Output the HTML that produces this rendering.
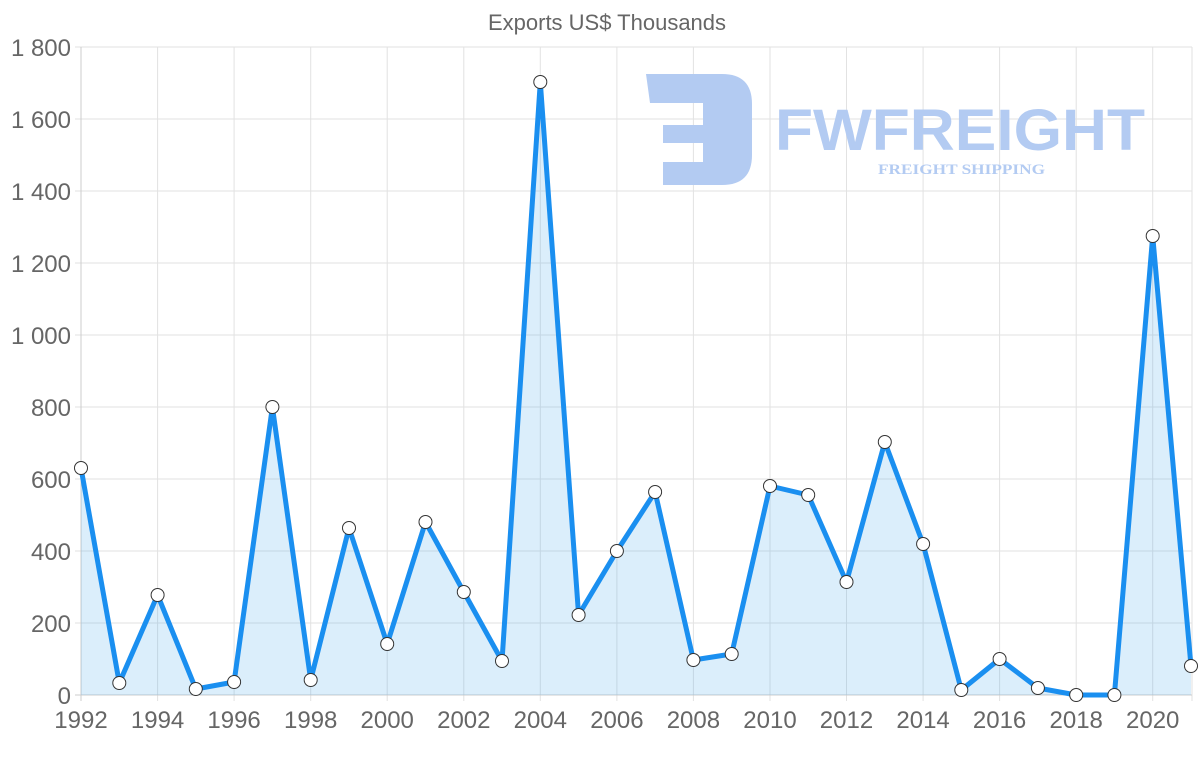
<!DOCTYPE html>
<html><head><meta charset="utf-8"><style>
html,body{margin:0;padding:0;background:#fff;}
svg{display:block;font-family:"Liberation Sans",Arial,sans-serif;}
</style></head><body>
<svg width="1200" height="763" viewBox="0 0 1200 763" xmlns="http://www.w3.org/2000/svg">
<text x="607" y="30" text-anchor="middle" font-size="22" fill="#666">Exports US$ Thousands</text>
<g stroke="#e2e2e2" stroke-width="1">
<line x1="75" y1="47" x2="1192" y2="47"/><line x1="75" y1="119" x2="1192" y2="119"/>
<line x1="75" y1="191" x2="1192" y2="191"/><line x1="75" y1="263" x2="1192" y2="263"/>
<line x1="75" y1="335" x2="1192" y2="335"/><line x1="75" y1="407" x2="1192" y2="407"/>
<line x1="75" y1="479" x2="1192" y2="479"/><line x1="75" y1="551" x2="1192" y2="551"/>
<line x1="75" y1="623" x2="1192" y2="623"/>
<line x1="157.6" y1="47" x2="157.6" y2="701"/><line x1="234.1" y1="47" x2="234.1" y2="701"/>
<line x1="310.7" y1="47" x2="310.7" y2="701"/><line x1="387.2" y1="47" x2="387.2" y2="701"/>
<line x1="463.8" y1="47" x2="463.8" y2="701"/><line x1="540.3" y1="47" x2="540.3" y2="701"/>
<line x1="616.9" y1="47" x2="616.9" y2="701"/><line x1="693.4" y1="47" x2="693.4" y2="701"/>
<line x1="770" y1="47" x2="770" y2="701"/><line x1="846.5" y1="47" x2="846.5" y2="701"/>
<line x1="923.1" y1="47" x2="923.1" y2="701"/><line x1="999.6" y1="47" x2="999.6" y2="701"/>
<line x1="1076.2" y1="47" x2="1076.2" y2="701"/><line x1="1152.7" y1="47" x2="1152.7" y2="701"/>
<line x1="1192" y1="47" x2="1192" y2="701"/>
</g>
<line x1="81" y1="47" x2="81" y2="701" stroke="#ccc"/>
<line x1="75" y1="695" x2="1192" y2="695" stroke="#ccc"/>
<!-- logo -->
<g fill="#b3cbf2">
<path d="M646 74 H722 Q752 74 752 104 V155 Q752 185 722 185 H663 V162 H703 V143 H663 V125 H703 V103 H650 Z"/>
<text x="775" y="150" font-size="58" font-weight="bold" textLength="370" lengthAdjust="spacingAndGlyphs">FWFREIGHT</text>
<text x="878" y="174" font-size="15" font-weight="bold" font-family="Liberation Serif,serif" textLength="167" lengthAdjust="spacingAndGlyphs">FREIGHT SHIPPING</text>
</g>
<g font-size="24" fill="#666" text-anchor="end">
<text x="71" y="56">1 800</text><text x="71" y="128">1 600</text><text x="71" y="200">1 400</text>
<text x="71" y="272">1 200</text><text x="71" y="344">1 000</text><text x="71" y="416">800</text>
<text x="71" y="488">600</text><text x="71" y="560">400</text><text x="71" y="632">200</text>
<text x="71" y="704">0</text>
</g>
<g font-size="24" fill="#666" text-anchor="middle">
<text x="81" y="728">1992</text><text x="157.6" y="728">1994</text><text x="234.1" y="728">1996</text>
<text x="310.7" y="728">1998</text><text x="387.2" y="728">2000</text><text x="463.8" y="728">2002</text>
<text x="540.3" y="728">2004</text><text x="616.9" y="728">2006</text><text x="693.4" y="728">2008</text>
<text x="770" y="728">2010</text><text x="846.5" y="728">2012</text><text x="923.1" y="728">2014</text>
<text x="999.6" y="728">2016</text><text x="1076.2" y="728">2018</text><text x="1152.7" y="728">2020</text>
</g>
<polygon fill="rgba(54,162,235,0.18)" points="81,695 81,468 119.3,683 157.6,595 195.8,689 234.1,682 272.4,407 310.7,680 349,528 387.2,644 425.5,522 463.8,592 502,661 540.3,82 578.6,615 616.9,551 655.1,492 693.4,660 731.7,654 770,486 808.2,495 846.5,582 884.8,442 923.1,544 961.3,690 999.6,659 1037.9,688 1076.2,695 1114.4,695 1152.7,236 1191,666 1191,695"/>
<polyline fill="none" stroke="#1a8ff0" stroke-width="5" stroke-linejoin="round" points="81,468 119.3,683 157.6,595 195.8,689 234.1,682 272.4,407 310.7,680 349,528 387.2,644 425.5,522 463.8,592 502,661 540.3,82 578.6,615 616.9,551 655.1,492 693.4,660 731.7,654 770,486 808.2,495 846.5,582 884.8,442 923.1,544 961.3,690 999.6,659 1037.9,688 1076.2,695 1114.4,695 1152.7,236 1191,666"/>
<g fill="#fff" stroke="#333" stroke-width="1">
<circle cx="81" cy="468" r="6.5"/><circle cx="119.3" cy="683" r="6.5"/><circle cx="157.6" cy="595" r="6.5"/>
<circle cx="195.8" cy="689" r="6.5"/><circle cx="234.1" cy="682" r="6.5"/><circle cx="272.4" cy="407" r="6.5"/>
<circle cx="310.7" cy="680" r="6.5"/><circle cx="349" cy="528" r="6.5"/><circle cx="387.2" cy="644" r="6.5"/>
<circle cx="425.5" cy="522" r="6.5"/><circle cx="463.8" cy="592" r="6.5"/><circle cx="502" cy="661" r="6.5"/>
<circle cx="540.3" cy="82" r="6.5"/><circle cx="578.6" cy="615" r="6.5"/><circle cx="616.9" cy="551" r="6.5"/>
<circle cx="655.1" cy="492" r="6.5"/><circle cx="693.4" cy="660" r="6.5"/><circle cx="731.7" cy="654" r="6.5"/>
<circle cx="770" cy="486" r="6.5"/><circle cx="808.2" cy="495" r="6.5"/><circle cx="846.5" cy="582" r="6.5"/>
<circle cx="884.8" cy="442" r="6.5"/><circle cx="923.1" cy="544" r="6.5"/><circle cx="961.3" cy="690" r="6.5"/>
<circle cx="999.6" cy="659" r="6.5"/><circle cx="1037.9" cy="688" r="6.5"/><circle cx="1076.2" cy="695" r="6.5"/>
<circle cx="1114.4" cy="695" r="6.5"/><circle cx="1152.7" cy="236" r="6.5"/><circle cx="1191" cy="666" r="6.5"/>
</g>
</svg>
</body></html>
